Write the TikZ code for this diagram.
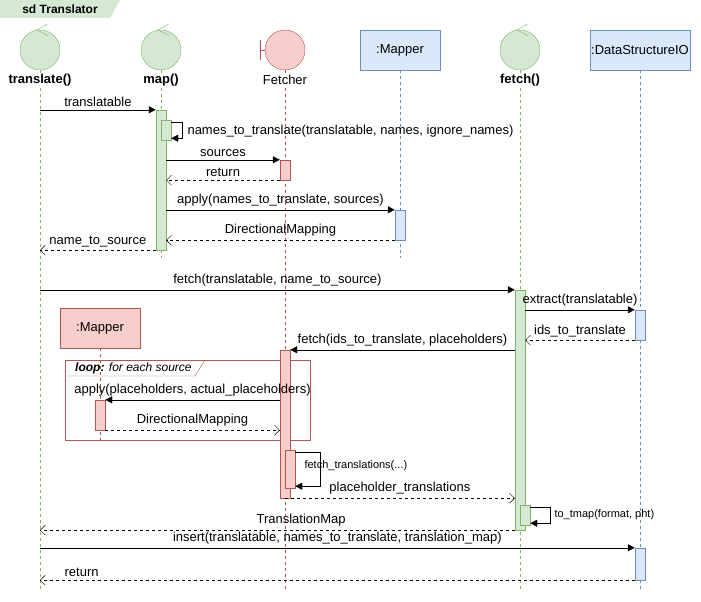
\documentclass[tikz,border=0pt]{standalone}
\usepackage{fontspec}
\setmainfont{Liberation Sans}
\usetikzlibrary{positioning,arrows.meta,calc}
\definecolor{gfill}{HTML}{D5E8D4}\definecolor{gline}{HTML}{82B366}
\definecolor{rfill}{HTML}{F8CECC}\definecolor{rline}{HTML}{B85450}
\definecolor{bfill}{HTML}{DAE8FC}\definecolor{bline}{HTML}{6C8EBF}
\newcommand{\act}[5]{\node[act=#5,minimum height=#4-#3] (#1) at (#2,{(#3+#4)/2}) {};}
\begin{document}
\begin{tikzpicture}[x=1pt,y=-1pt,font=\fontsize{13}{15}\selectfont,
        ctrl/.style={circle, draw=gline, fill=gfill, minimum size=40pt, inner sep=0pt},
        bnd/.style={circle, draw=rline, fill=rfill, minimum size=40pt, inner sep=0pt},
        obj/.style={rectangle, draw=#1line, fill=#1fill, minimum width=80pt, minimum height=40pt, inner sep=1pt},
        act/.style={rectangle, draw=#1line, fill=#1fill, minimum width=10pt, inner sep=0pt},
        life/.style={draw=#1line, dashed, dash pattern=on 3pt off 3pt, thin},
        msg/.style={-{Triangle[length=7pt,width=7pt]}},
        ret/.style={dashed, dash pattern=on 3pt off 3pt, -{Straight Barb[length=5pt,width=10pt]}},
        lbl/.style={inner sep=1pt, fill=white},
        head/.style={lbl, font=\bfseries\fontsize{13}{15}\selectfont},
        small/.style={font=\fontsize{11}{13}\selectfont}
    ]
    \useasboundingbox (0,0) rectangle (701,602);

    % frame label
    \fill[gfill] (0,0) -- (120,0) -- (110,18) -- (0,18) -- cycle;
    \node[font=\bfseries\fontsize{12}{14}\selectfont] (title) at (60,9) {sd Translator};

    % heads
    \node[ctrl] (tr) at (40,50) {};
    \node[ctrl] (mp) at (161,50) {};
    \node[bnd] (fe) at (285,50) {};
    \node[obj=b] (ma) at (400,50) {:Mapper};
    \node[ctrl] (fc) at (520,50) {};
    \node[obj=b, minimum width=100pt] (ds) at (640,50) {:DataStructureIO};
    \node[obj=r] (mb) at (100,328) {:Mapper};
    \foreach \n in {tr,mp,fc}
        \draw[gline] ($(\n.north)+(8,-6)$) -- ($(\n.north)+(-3,0)$) -- ($(\n.north)+(8,6)$);
    \draw[rline] (260,40) -- (260,60) (260,50) -- (fe.west);

    % lifelines
    \draw[life=g] (tr.south) -- (40,590);
    \draw[life=g] (mp.south) -- (161,258);
    \draw[life=r] (fe.south) -- (285,590);
    \draw[life=b] (ma.south) -- (400,258);
    \draw[life=g] (fc.south) -- (520,590);
    \draw[life=b] (ds.south) -- (640,590);
    \draw[life=r] (mb.south) -- (100,440);

    \node[head] at (40,80) {translate()};
    \node[head] at (161,80) {map()};
    \node[lbl] at (285,80) {Fetcher};
    \node[head] at (520,80) {fetch()};

    % loop frame
    \draw[rline] (65,360) rectangle (310,440);
    \draw[rline] (65,376) -- (195,376) -- (205,360);
    \node[anchor=west, inner sep=0pt, font=\itshape\fontsize{12}{14}\selectfont] (loop) at (75,368) {\textbf{loop:} for each source};

    % activations
    \act{mpA}{161}{110}{250}{g}
    \act{mpB}{166}{120}{140}{g}
    \act{feA}{285}{160}{180}{r}
    \act{maA}{400}{210}{240}{b}
    \act{fcA}{520}{290}{530}{g}
    \act{dsA}{640}{310}{340}{b}
    \act{feB}{285}{350}{498}{r}
    \act{mbA}{100}{400}{430}{r}
    \act{feC}{290}{450}{488}{r}
    \act{fcB}{525}{505}{525}{g}
    \act{dsB}{640}{548}{580}{b}

    % messages
    \draw[msg] (tr |- mpA.north) -- node[above] {translatable} (mpA.north west);
    \draw[msg] ($(mpB.north east)+(0,2)$) -- ++(11,0) |- ($(mpB.south east)+(0,-2)$);
    \node[anchor=west] at (184,131) {names\_to\_translate(translatable, names, ignore\_names)};
    \draw[msg] (mpA.east |- feA.north) -- node[above] {sources} (feA.north west);
    \draw[ret] (feA.south west) -- node[above] {return} (mpA.east |- feA.south);
    \draw[msg] (mpA.east |- maA.north) -- node[above] {apply(names\_to\_translate, sources)} (maA.north west);
    \draw[ret] (maA.south west) -- node[above] {DirectionalMapping} (mpA.east |- maA.south);
    \draw[ret] (mpA.south west) -- node[above] {name\_to\_source} (tr |- mpA.south);
    \draw[msg] (tr |- fcA.north) -- node[above] {fetch(translatable, name\_to\_source)} (fcA.north west);
    \draw[msg] (fcA.east |- dsA.north) -- node[above] {extract(translatable)} (dsA.north west);
    \draw[ret] (dsA.south west) -- node[above] {ids\_to\_translate} (fcA.east |- dsA.south);
    \draw[msg] (fcA.west |- feB.north) -- node[above] {fetch(ids\_to\_translate, placeholders)} (feB.north east);
    \draw[msg] (feB.west |- mbA.north) -- node[above] {apply(placeholders, actual\_placeholders)} (mbA.north east);
    \draw[ret] (mbA.south east) -- node[above] {DirectionalMapping} (feB.west |- mbA.south);
    \draw[msg] ($(feC.north east)+(0,2)$) -- ++(25,0) |- ($(feC.south east)+(0,-2)$);
    \node[anchor=west, small] at (301,466) {fetch\_translations(...)};
    \draw[ret] (feB.south) -- node[above] {placeholder\_translations} (fcA.west |- feB.south);
    \draw[msg] ($(fcB.north east)+(0,2)$) -- ++(20,0) |- ($(fcB.south east)+(0,-2)$);
    \node[anchor=west, small] at (551,515) {to\_tmap(format, pht)};
    \draw[ret] (fcA.south west) -- node[above, pos=0.45] {TranslationMap} (tr |- fcA.south);
    \draw[msg] (tr |- dsB.north) -- node[above] {insert(translatable, names\_to\_translate, translation\_map)} (dsB.north west);
    \draw[ret] (dsB.south west) -- node[above, pos=0.93] {return} (tr |- dsB.south);
\end{tikzpicture}
\end{document}
